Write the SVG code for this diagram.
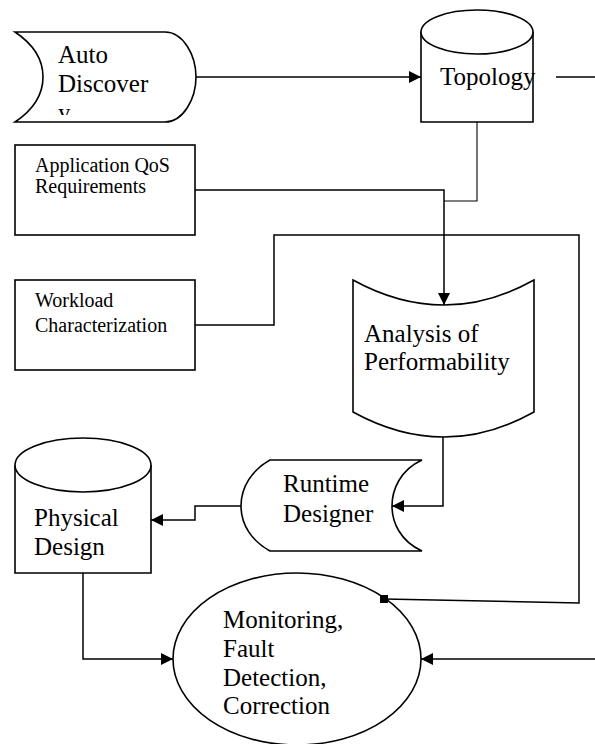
<svg xmlns="http://www.w3.org/2000/svg" width="595" height="744" viewBox="0 0 595 744" font-family="'Liberation Serif', 'Times New Roman', serif">
<style>
.s{fill:#fff;stroke:#000;stroke-width:1.6}
.c{fill:none;stroke:#000;stroke-width:1.5}
.t{font-size:25px;fill:#000}
.ts{font-size:20px;fill:#000}
</style>
<defs>
<marker id="arr" markerUnits="userSpaceOnUse" markerWidth="14" markerHeight="12" refX="12" refY="6" orient="auto">
<path d="M0,0 L12,6 L0,12 Z" fill="#000"/>
</marker>
<marker id="sq" markerUnits="userSpaceOnUse" markerWidth="8" markerHeight="8" refX="4" refY="4" orient="auto">
<rect x="0" y="0" width="8" height="8" fill="#000"/>
</marker>
<clipPath id="clipAuto"><rect x="0" y="0" width="200" height="115"/></clipPath>
</defs>
<rect width="595" height="744" fill="#fff"/>
<g id="auto-discover">
<path class="s" d="M15,32 L165,32 C183,32 196,55 196,77 C196,99 183,122 165,122 L15,122 C33,110 43,95 43,77 C43,59 33,44 15,32 Z"/>
<g clip-path="url(#clipAuto)" font-family="'Liberation Serif', serif">
<text class="t" x="58" y="63">Auto</text>
<text class="t" x="58" y="92">Discover</text>
<text class="t" x="58" y="121">y</text>
</g>
</g>
<g id="topology">
<path class="s" d="M421,32 L421,122 L533,122 L533,32"/>
<ellipse class="s" cx="477" cy="32" rx="56" ry="22"/>
<text class="t" x="440" y="85" font-family="'Liberation Serif', serif">Topology</text>
</g>
<g id="app-qos" font-family="'Liberation Serif', serif">
<rect class="s" x="15" y="145" width="180" height="90"/>
<text class="ts" x="35" y="172">Application QoS</text>
<text class="ts" x="35" y="193">Requirements</text>
</g>
<g id="workload" font-family="'Liberation Serif', serif">
<rect class="s" x="15" y="280" width="180" height="90"/>
<text class="ts" x="35" y="307">Workload</text>
<text class="ts" x="35" y="332">Characterization</text>
</g>
<g id="analysis" font-family="'Liberation Serif', serif">
<path class="s" d="M353,280 Q444,330 534,280 L534,412 Q444,462 353,412 Z"/>
<text class="t" x="364" y="342">Analysis of</text>
<text class="t" x="364" y="370">Performability</text>
</g>
<g id="runtime-designer" font-family="'Liberation Serif', serif">
<path class="s" d="M270,460 L422,460 C400,470 392,490 392,506 C392,522 400,541 422,551 L270,551 C252,541 241,525 241,506 C241,487 252,470 270,460 Z"/>
<text class="t" x="283" y="492">Runtime</text>
<text class="t" x="283" y="522">Designer</text>
</g>
<g id="physical-design" font-family="'Liberation Serif', serif">
<path class="s" d="M15,465 L15,573 L151,573 L151,465"/>
<ellipse class="s" cx="83" cy="465" rx="68" ry="27"/>
<text class="t" x="34" y="526">Physical</text>
<text class="t" x="34" y="555">Design</text>
</g>
<g id="monitoring" font-family="'Liberation Serif', serif">
<ellipse class="s" cx="297" cy="659" rx="124" ry="86"/>
<text class="t" x="223" y="628">Monitoring,</text>
<text class="t" x="223" y="657">Fault</text>
<text class="t" x="223" y="686">Detection,</text>
<text class="t" x="223" y="714">Correction</text>
</g>
<g id="connectors">
<path class="c" d="M196,77 L421,77" marker-end="url(#arr)"/>
<path class="c" d="M556,77 L595,77"/>
<path class="c" d="M477,122 L477,201 L444,201" style="stroke-width:1.1"/>
<path class="c" d="M195,190 L444,190 L444,305" marker-end="url(#arr)"/>
<path class="c" d="M195,325 L274,325 L274,235 L579,235 L579,603 L384,599" marker-end="url(#sq)"/>
<path class="c" d="M443,437 L443,506 L392,506" marker-end="url(#arr)"/>
<path class="c" d="M241,506 L195,506 L195,520 L151,520" marker-end="url(#arr)"/>
<path class="c" d="M83,573 L83,659 L173,659" marker-end="url(#arr)"/>
<path class="c" d="M595,659 L421,659" marker-end="url(#arr)"/>
</g>
</svg>
